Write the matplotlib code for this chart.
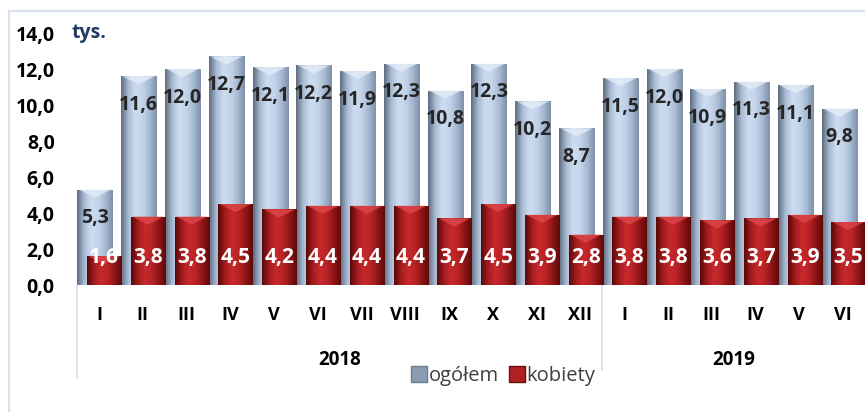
import numpy as np
import matplotlib
matplotlib.use("Agg")
import matplotlib.pyplot as plt
from matplotlib.colors import LinearSegmentedColormap
from matplotlib.patches import Polygon
from matplotlib.lines import Line2D

months = ["I", "II", "III", "IV", "V", "VI", "VII", "VIII", "IX", "X", "XI", "XII",
          "I", "II", "III", "IV", "V", "VI"]
years = ["2018", "2019"]
year_sizes = [12, 6]
ogolem = [5.3, 11.6, 12.0, 12.7, 12.1, 12.2, 11.9, 12.3, 10.8, 12.3, 10.2, 8.7,
          11.5, 12.0, 10.9, 11.3, 11.1, 9.8]
kobiety = [1.6, 3.8, 3.8, 4.5, 4.2, 4.4, 4.4, 4.4, 3.7, 4.5, 3.9, 2.8,
           3.8, 3.8, 3.6, 3.7, 3.9, 3.5]

plt.rcParams["font.family"] = ["Open Sans", "DejaVu Sans"]

W, H = 865, 412
fig = plt.figure(figsize=(W / 100, H / 100), dpi=100)
ax = fig.add_axes([77 / W, (H - 285) / H, 788 / W, 252 / H])

blue_cmap = LinearSegmentedColormap.from_list(
    "b", ["#5f6d80", "#a9bcd4", "#cddcf0", "#c3d4ea", "#a7bad3", "#7f90a8"])
red_cmap = LinearSegmentedColormap.from_list(
    "r", ["#5a0808", "#a31d1f", "#c8292c", "#b82326", "#8e1517", "#5e0a0a"])
grad = np.linspace(0, 1, 64).reshape(1, -1)

x = np.arange(len(months))


def fancy_bars(xs, vals, width, cmap, top_col, z):
    bars = ax.bar(xs, vals, width, color="none", edgecolor="none", zorder=z)
    for b in bars:
        x0, w, h = b.get_x(), b.get_width(), b.get_height()
        im = ax.imshow(grad, cmap=cmap, extent=[x0, x0 + w, 0, h],
                       aspect="auto", zorder=z, interpolation="bicubic")
        im.set_clip_path(b)
        bev = 0.45
        ax.add_patch(Polygon([[x0 + 0.04 * w, h], [x0 + 0.96 * w, h],
                              [x0 + w / 2, h - bev]],
                             closed=True, facecolor=top_col, edgecolor="none",
                             alpha=0.75, zorder=z + 0.1))
    return bars


fancy_bars(x - 0.09, ogolem, 0.8, blue_cmap, "#e6eef9", 2)
fancy_bars(x + 0.12, kobiety, 0.78, red_cmap, "#e0494b", 3)

for i, v in enumerate(ogolem):
    ax.text(x[i] - 0.09, v - 1.6, f"{v:.1f}".replace(".", ","), ha="center",
            va="center", fontsize=14, fontweight="bold", color="#262626", zorder=5)
for i, v in enumerate(kobiety):
    ax.text(x[i] + 0.12, 1.5, f"{v:.1f}".replace(".", ","), ha="center",
            va="center", fontsize=15, fontweight="bold", color="white", zorder=5)

ax.set_xlim(-0.5, len(months) - 0.5)
ax.set_ylim(0, 14)
ax.set_yticks(np.arange(0, 15, 2))
ax.set_yticklabels([f"{t:.1f}".replace(".", ",") for t in np.arange(0, 15, 2)],
                   fontsize=14, fontweight="bold")
ax.tick_params(axis="y", length=0, pad=16)
ax.set_xticks([])
for s in ax.spines.values():
    s.set_visible(False)
ax.patch.set_alpha(0)

for i, m in enumerate(months):
    ax.text(x[i], -30 / 18, m, ha="center", va="center", fontsize=13,
            fontweight="bold", clip_on=False)

start = 0
for yr, n in zip(years, year_sizes):
    ax.text(start + (n - 1) / 2, -75 / 18, yr, ha="center", va="center",
            fontsize=13.5, fontweight="bold", clip_on=False)
    start += n

# group separators and floor
ax.plot([-0.5, -0.5], [0, -93 / 18], color="#d2def0", lw=1.2, clip_on=False)
ax.plot([11.5, 11.5], [0, -85 / 18], color="#d2def0", lw=1.2, clip_on=False)
ax.axhline(0, color="#d9d9d9", lw=1, zorder=1)

fig.text(72 / W, (H - 33) / H, "tys.", fontsize=14, fontweight="bold",
         color="#1f3b63", va="center", ha="left")

# outer chart border
fig.add_artist(Line2D([9 / W, 1], [1 - 11 / H, 1 - 11 / H], color="#d6e0f0", lw=1.5))
fig.add_artist(Line2D([9 / W, 9 / W], [0, 1 - 11 / H], color="#d6e0f0", lw=1.5))

handles = [Line2D([], [], marker="s", ls="none", markersize=11, markerfacecolor="#8c9db3",
                  markeredgecolor="#6d7e94"),
           Line2D([], [], marker="s", ls="none", markersize=11, markerfacecolor="#b01f22",
                  markeredgecolor="#6d0d0d")]
fig.legend(handles, ["ogółem", "kobiety"], loc="center", bbox_to_anchor=(503 / W, 36 / H),
           ncol=2, frameon=False, fontsize=14.5, handletextpad=0.05, columnspacing=0.5,
           handlelength=0.8, labelcolor="#404040")

fig.savefig("out.png", dpi=100)
